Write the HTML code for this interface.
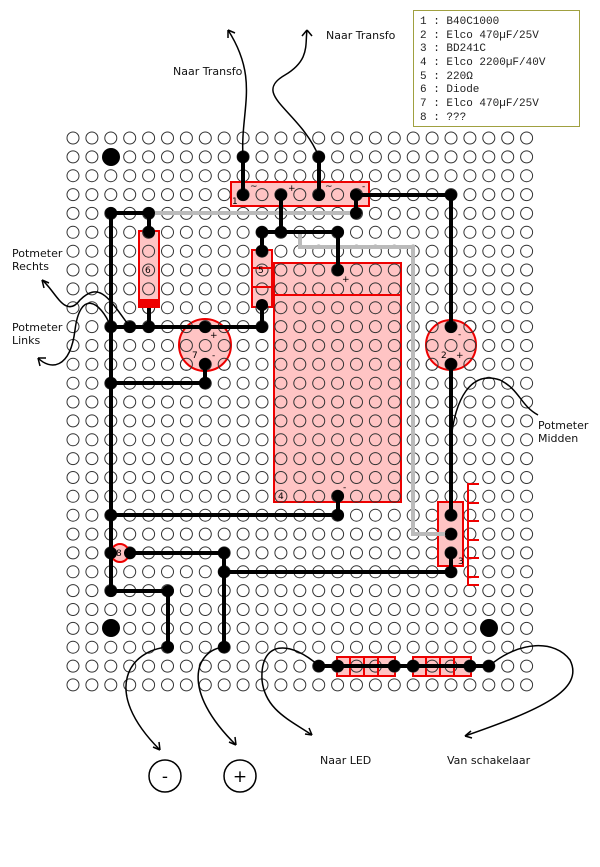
<!DOCTYPE html>
<html><head><meta charset="utf-8"><style>
html,body{margin:0;padding:0;background:#fff;}
svg{display:block;}
text{font-family:"DejaVu Sans","Liberation Sans",sans-serif;}
.leg text{font-family:"Liberation Mono","DejaVu Sans Mono",monospace;font-size:11px;fill:#222;}
</style></head><body>
<svg id="s" width="600" height="867" viewBox="0 0 600 867" xmlns="http://www.w3.org/2000/svg">
<g id="holes" fill="none" stroke="#333" stroke-width="1"></g>
<g fill="#ffc4c4" stroke="#ee0000" stroke-width="2">
<rect x="231" y="182" width="138" height="24"/>
<rect x="139" y="231" width="20" height="76"/>
<rect x="252" y="250" width="20" height="57"/>
<rect x="274" y="263" width="127" height="239"/>
<circle cx="205" cy="345" r="26"/>
<circle cx="451" cy="345" r="25"/>
<rect x="438" y="502" width="25" height="64"/>
<circle cx="120" cy="553" r="9"/>
<rect x="337" y="657" width="58" height="19"/>
<rect x="413" y="657" width="58" height="19"/>
</g>
<g id="holes2" fill="none" stroke="#333" stroke-width="1"></g>
<g stroke="#ee0000" stroke-width="2" fill="none">
<line x1="274" y1="295" x2="401" y2="295"/>
<line x1="252" y1="268" x2="272" y2="268"/><line x1="252" y1="287" x2="272" y2="287"/>
<rect x="139" y="300" width="20" height="7" fill="#ee0000"/>
<line x1="350" y1="657" x2="350" y2="676"/><line x1="364" y1="657" x2="364" y2="676"/><line x1="378" y1="657" x2="378" y2="676"/>
<line x1="426" y1="657" x2="426" y2="676"/><line x1="440" y1="657" x2="440" y2="676"/><line x1="454" y1="657" x2="454" y2="676"/>
<path d="M479 484 H468 V585 H479 M468 503 H479 M468 521 H479 M468 540 H479 M468 558 H479 M468 577 H479"/>
</g>
<g stroke="#bbb" stroke-width="4" fill="none">
<path d="M149 213 H356"/>
<path d="M300 232 V247 H413 V534 H451"/>
</g>
<g stroke="#000" stroke-width="4" fill="none" stroke-linejoin="round">
<path d="M243 157 V195"/><path d="M319 157 V195"/>
<path d="M356 195 V213"/><path d="M356 195 H451 V327"/>
<path d="M281 195 V232"/><path d="M262 232 H338 V270"/><path d="M262 232 V251"/>
<path d="M111 213 H149 V232"/>
<path d="M111 213 V591 H168 V647"/>
<path d="M149 308 V327"/><path d="M262 305 V327"/>
<path d="M111 327 H262"/>
<path d="M205 364 V383 H111"/>
<path d="M111 515 H338 V496"/>
<path d="M451 364 V515"/>
<path d="M130 553 H224 V647"/>
<path d="M224 572 H451 V553"/>
<path d="M319 666 H489"/>
</g>
<g id="dots" fill="#000"></g>
<g fill="#000"><circle cx="111" cy="157" r="9"/><circle cx="111" cy="628" r="9"/><circle cx="489" cy="628" r="9"/></g>
<g font-size="9" fill="#000">
<text x="232" y="204">1</text><text x="250" y="189">~</text><text x="288" y="191">+</text><text x="325" y="189">~</text><text x="362" y="189">-</text>
<text x="145" y="273">6</text><text x="258" y="273">5</text>
<text x="342" y="282">+</text><text x="278" y="499">4</text><text x="343" y="490">-</text>
<text x="210" y="338">+</text><text x="192" y="358">7</text><text x="212" y="358">-</text>
<text x="458" y="337">-</text><text x="441" y="358">2</text><text x="456" y="358">+</text>
<text x="458" y="564">3</text><text x="116" y="556">8</text>
</g>
<g stroke="#000" stroke-width="1.5" fill="none">
<path d="M243 157 C240 110 260 80 228 30"/><path d="M228 30 l0 8 M228 30 l7 3"/>
<path d="M319 157 C300 110 250 95 285 75 C310 60 305 45 307 30"/><path d="M307 30 l-5 6 M307 30 l5 6"/>
<path d="M130 327 C110 300 100 280 80 300 C65 320 55 290 42 280"/><path d="M42 280 l2 8 M42 280 l7 3"/>
<path d="M111 327 C100 300 80 290 75 330 C70 370 50 370 38 358"/><path d="M38 358 l2 8 M38 358 l8 0"/>
<path d="M451 440 C455 400 470 370 500 380 C520 390 520 405 538 415"/>
<path d="M168 647 C130 650 100 690 160 750"/><path d="M160 750 l-1 -8 M160 750 l-7 -3"/>
<path d="M224 647 C195 650 180 690 236 745"/><path d="M236 745 l-1 -8 M236 745 l-7 -3"/>
<path d="M319 666 C290 640 260 640 262 680 C265 710 290 720 312 735"/><path d="M312 735 l-3 -7 M312 735 l-7 -1"/>
<path d="M489 666 C520 640 555 640 570 660 C585 690 540 710 465 736"/><path d="M465 736 l6 -5 M465 736 l7 2"/>
</g>
<g font-size="11" fill="#111">
<text x="173" y="75">Naar Transfo</text>
<text x="326" y="39">Naar Transfo</text>
<text x="12" y="257">Potmeter</text><text x="12" y="270">Rechts</text>
<text x="12" y="331">Potmeter</text><text x="12" y="344">Links</text>
<text x="538" y="429">Potmeter</text><text x="538" y="442">Midden</text>
<text x="320" y="764">Naar LED</text>
<text x="447" y="764">Van schakelaar</text>
</g>
<g stroke="#000" stroke-width="1.5" fill="#fff"><circle cx="165" cy="776" r="16"/><circle cx="240" cy="776" r="16"/></g>
<text x="165" y="782" font-size="17" text-anchor="middle">-</text>
<text x="240" y="782" font-size="17" text-anchor="middle">+</text>
<rect x="413.5" y="10.5" width="166" height="116" fill="#fff" stroke="#a0a040" stroke-width="1"/>
<g class="leg">
<text x="420" y="24">1 : B40C1000</text>
<text x="420" y="38">2 : Elco 470µF/25V</text>
<text x="420" y="51">3 : BD241C</text>
<text x="420" y="65">4 : Elco 2200µF/40V</text>
<text x="420" y="79">5 : 220Ω</text>
<text x="420" y="92">6 : Diode</text>
<text x="420" y="106">7 : Elco 470µF/25V</text>
<text x="420" y="120">8 : ???</text>
</g>
<script>
(function(){
var ns="http://www.w3.org/2000/svg",h=document.getElementById("holes");
for(var r=0;r<30;r++)for(var c=0;c<25;c++){
var x=73+18.9*c,y=138+18.86*r;
if(x>410&&y<130)continue;
var e=document.createElementNS(ns,"circle");e.setAttribute("cx",x.toFixed(1));e.setAttribute("cy",y.toFixed(1));e.setAttribute("r","6");h.appendChild(e);
var inComp=(x>270&&x<405&&y>260&&y<505)||(x>228&&x<372&&y>180&&y<208)||(x>136&&x<162&&y>228&&y<310)||(x>249&&x<275&&y>247&&y<310)||(Math.hypot(x-205,y-345)<30)||(Math.hypot(x-451,y-345)<29)||(x>435&&x<466&&y>499&&y<569)||(y>655&&y<678&&((x>334&&x<398)||(x>410&&x<474)));
if(inComp){var f=e.cloneNode();document.getElementById("holes2").appendChild(f);}}
var d=[[243,157],[319,157],[243,195],[281,195],[319,195],[356,195],[356,213],[451,195],
[111,213],[149,213],[149,232],[262,232],[281,232],[338,232],[262,251],[338,270],
[149,327],[111,327],[130,327],[205,327],[262,327],[262,305],[205,364],[205,383],[111,383],
[451,327],[451,364],[338,496],[338,515],[111,515],[451,515],[451,534],[451,553],[451,572],
[111,553],[130,553],[224,553],[224,572],[111,591],[168,591],[168,647],[224,647],
[319,666],[338,666],[394,666],[413,666],[470,666],[489,666]];
var g=document.getElementById("dots");
d.forEach(function(p){var e=document.createElementNS(ns,"circle");e.setAttribute("cx",p[0]);e.setAttribute("cy",p[1]);e.setAttribute("r","6");g.appendChild(e);});
})();
</script>
</svg>
</body></html>
